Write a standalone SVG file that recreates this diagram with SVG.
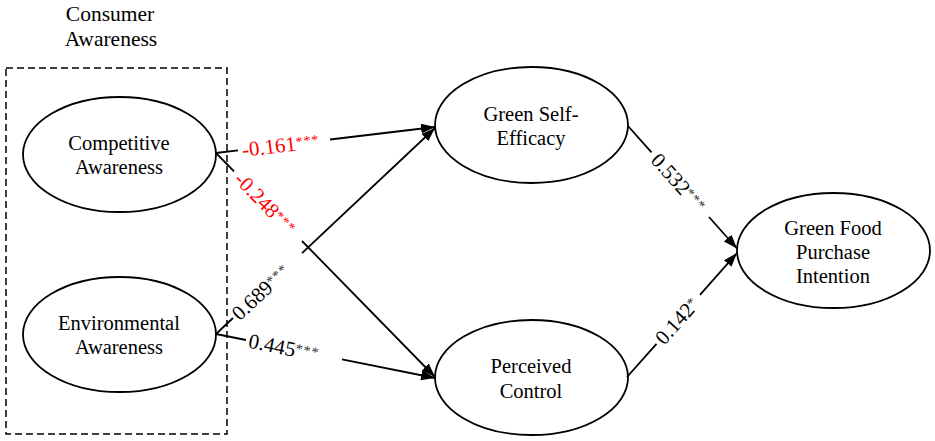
<svg xmlns="http://www.w3.org/2000/svg" width="935" height="441" viewBox="0 0 935 441">
<style>
.node{fill:#fff;stroke:#000;stroke-width:1.8}
.nt{font-family:'Liberation Serif','DejaVu Serif','Times New Roman',serif;font-size:20.5px;fill:#000;text-anchor:middle}
.hd{font-family:'Liberation Serif','DejaVu Serif','Times New Roman',serif;font-size:21.5px;fill:#000;text-anchor:middle}
.ln{stroke:#000;stroke-width:1.8;fill:none}
.arr{marker-end:url(#ah)}
.lb{font-family:'Liberation Serif','DejaVu Serif','Times New Roman',serif;font-size:21px;fill:#000}
.red{fill:#ff0000}
.st{font-size:14px;letter-spacing:1px;fill:#333}
.red .st{fill:#ff0000}
</style>
<defs>
<marker id="ah" markerUnits="userSpaceOnUse" markerWidth="15" markerHeight="11" refX="14" refY="5" orient="auto">
<path d="M0,0 L14,5 L0,10 z" fill="#000"/>
</marker>
</defs>
<rect width="935" height="441" fill="#fff"/>
<g id="group-consumer-awareness">
<rect x="6" y="68" width="221" height="366" fill="none" stroke="#000" stroke-width="1.5" stroke-dasharray="7 4"/>
<text class="hd" x="110" y="21">Consumer</text>
<text class="hd" x="111" y="46">Awareness</text>
</g>
<g id="node-competitive-awareness">
<ellipse class="node" cx="119.5" cy="154.5" rx="96.5" ry="57.5"/>
<text class="nt" x="119" y="150">Competitive</text>
<text class="nt" x="119" y="174.3">Awareness</text>
</g>
<g id="node-environmental-awareness">
<ellipse class="node" cx="119.5" cy="334.5" rx="96.5" ry="57.5"/>
<text class="nt" x="119" y="330">Environmental</text>
<text class="nt" x="119" y="354.3">Awareness</text>
</g>
<g id="node-green-self-efficacy">
<ellipse class="node" cx="531.5" cy="125" rx="96.5" ry="58"/>
<text class="nt" x="531" y="120.7">Green Self-</text>
<text class="nt" x="531" y="145">Efficacy</text>
</g>
<g id="node-perceived-control">
<ellipse class="node" cx="531.5" cy="377.5" rx="96.5" ry="57.5"/>
<text class="nt" x="531" y="373">Perceived</text>
<text class="nt" x="531" y="398">Control</text>
</g>
<g id="node-green-food-purchase-intention">
<ellipse class="node" cx="833.5" cy="250.5" rx="96.5" ry="57.5"/>
<text class="nt" x="833" y="235">Green Food</text>
<text class="nt" x="833" y="259">Purchase</text>
<text class="nt" x="833" y="283">Intention</text>
</g>
<g id="connectors">
<line class="ln" x1="216" y1="153" x2="238" y2="150.4"/>
<line class="ln arr" x1="330" y1="139.5" x2="435" y2="127"/>
<line class="ln" x1="216" y1="153" x2="234" y2="171.4"/>
<line class="ln arr" x1="302" y1="241" x2="435" y2="377"/>
<line class="ln" x1="216" y1="334" x2="233" y2="318"/>
<line class="ln arr" x1="302" y1="253.2" x2="435" y2="128"/>
<line class="ln" x1="216" y1="334" x2="246" y2="340"/>
<line class="ln arr" x1="342" y1="359.3" x2="435" y2="378"/>
<line class="ln" x1="628" y1="126" x2="651.5" y2="152.4"/>
<line class="ln arr" x1="709" y1="217" x2="737" y2="248.5"/>
<line class="ln" x1="627" y1="377" x2="656.5" y2="343.8"/>
<line class="ln arr" x1="700" y1="294.8" x2="737" y2="253"/>
<text class="lb red" transform="translate(242,150) rotate(-6.8)" x="0" y="7">-0.161<tspan class="st" dy="-4">***</tspan></text>
<text class="lb red" transform="translate(238,175.6) rotate(45.65)" x="0" y="7">-0.248<tspan class="st" dy="-4">***</tspan></text>
<text class="lb" transform="translate(235,316.5) rotate(-43.25)" x="0" y="7">0.689<tspan class="st" dy="-4">***</tspan></text>
<text class="lb" transform="translate(249,340.6) rotate(11.36)" x="0" y="7">0.445<tspan class="st" dy="-4">***</tspan></text>
<text class="lb" transform="translate(655,156.3) rotate(48.3)" x="0" y="7">0.532<tspan class="st" dy="-4">***</tspan></text>
<text class="lb" transform="translate(659,341.3) rotate(-48.4)" x="0" y="7">0.142<tspan class="st" dy="-4">*</tspan></text>
</g>
</svg>
